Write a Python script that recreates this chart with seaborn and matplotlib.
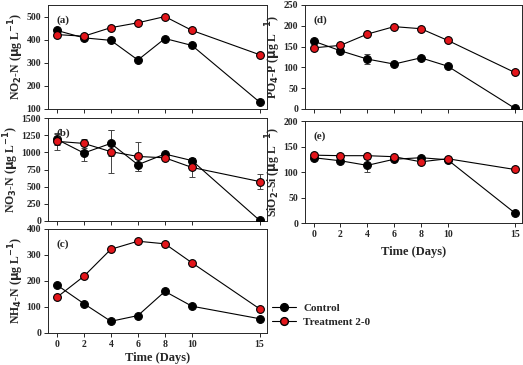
import matplotlib
matplotlib.use("Agg")
import matplotlib.pyplot as plt
from matplotlib.lines import Line2D
import numpy as np
import pandas as pd
import seaborn as sb

sb.set_style("ticks")
plt.rcParams['font.family'] = ['Liberation Serif', 'DejaVu Serif']
plt.rcParams['font.weight'] = 'bold'
plt.rcParams['mathtext.default'] = 'bf'

days = [0, 2, 4, 6, 8, 10, 15]
groups = ["Control", "Treatment 2-0"]

no2_control = [440, 408, 397, 312, 405, 375, 130]
no2_treat = [422, 415, 452, 473, 500, 440, 335]

no3_control = [1190, 990, 1130, 820, 975, 880, 10]
no3_treat = [1160, 1130, 1010, 940, 920, 780, 575]
no3_control_err = [80, 110, 190, 90, 30, 40, 0]
no3_treat_err = [120, 70, 310, 215, 30, 140, 105]

nh4_control = [185, 113, 45, 67, 160, 103, 55]
nh4_treat = [137, 218, 322, 353, 343, 270, 93]

po4_control = [163, 140, 120, 108, 123, 103, 2]
po4_treat = [147, 153, 180, 198, 193, 165, 88]
po4_control_err = [4, 6, 12, 3, 4, 3, 0]

si_control = [128, 122, 113, 125, 128, 124, 20]
si_treat = [133, 132, 132, 130, 120, 126, 105]
si_control_err = [3, 3, 13, 4, 3, 3, 0]

panels = [
    # label, ylabel, control, treat, control err, treat err, ylim, yticks, rect
    ("(a)", r"NO$_2$-N ($\mu$g L$^{-1}$)", no2_control, no2_treat, None, None,
     (100, 550), [100, 200, 300, 400, 500], [48, 5, 267, 109]),
    ("(b)", r"NO$_3$-N ($\mu$g L$^{-1}$)", no3_control, no3_treat, no3_control_err, no3_treat_err,
     (0, 1500), [0, 250, 500, 750, 1000, 1250, 1500], [48, 118, 267, 221]),
    ("(c)", r"NH$_4$-N ($\mu$g L$^{-1}$)", nh4_control, nh4_treat, None, None,
     (0, 400), [0, 100, 200, 300, 400], [48, 229, 267, 333]),
    ("(d)", r"PO$_4$-P ($\mu$g L$^{-1}$)", po4_control, po4_treat, po4_control_err, None,
     (0, 250), [0, 50, 100, 150, 200, 250], [305, 5, 522, 109]),
    ("(e)", r"SiO$_2$-Si ($\mu$g L$^{-1}$)", si_control, si_treat, si_control_err, None,
     (0, 200), [0, 50, 100, 150, 200], [305, 121, 522, 223]),
]

W, H = 523, 365
fig = plt.figure(figsize=(W / 100, H / 100), dpi=100)
colors = {"Control": "black", "Treatment 2-0": "#e3161b"}
msize = 5.6

for label, ylabel, ctrl, trt, cerr, terr, ylim, yticks, (x0, y0, x1, y1) in panels:
    ax = fig.add_axes([x0 / W, 1 - y1 / H, (x1 - x0) / W, (y1 - y0) / H])
    for name, vals, err in [("Control", ctrl, cerr), ("Treatment 2-0", trt, terr)]:
        if err is not None:
            ax.errorbar(days, vals, yerr=err, fmt='none', ecolor='#444444',
                        elinewidth=0.7, capsize=2, capthick=0.7, zorder=2)
        df = pd.DataFrame({"day": days, "value": vals})
        sb.lineplot(data=df, x="day", y="value", ax=ax, color="black", lw=0.8,
                    marker="o", markersize=msize, markerfacecolor=colors[name],
                    markeredgecolor="black", markeredgewidth=0.8, zorder=3)
    ax.set_xlim(-0.65, 15.55)
    ax.set_ylim(*ylim)
    ax.set_yticks(yticks)
    ax.set_xticks(days)
    ax.tick_params(labelsize=7, length=3, width=0.7, pad=2)
    for s in ax.spines.values():
        s.set_linewidth(0.7)
    ax.set_ylabel(ylabel, fontsize=8.5, fontweight='bold', labelpad=0.5)
    ax.set_xlabel("")
    ax.text(0.04, 0.9, label, transform=ax.transAxes, fontsize=8,
            fontweight='bold', va='top')
    if label in ("(c)", "(e)"):
        ax.set_xlabel("Time (Days)", fontsize=9, fontweight='bold',
                      labelpad=2 if label == "(c)" else 5)
    else:
        ax.set_xticklabels([])

handles = [Line2D([], [], color="black", lw=0.8, marker="o", markersize=msize,
                  markerfacecolor=colors[g], markeredgecolor="black")
           for g in groups]
fig.legend(handles, groups, loc="center left", bbox_to_anchor=(262 / W, 1 - 315 / H),
           frameon=False, handlelength=2.2, labelspacing=0.35,
           handletextpad=0.6, prop={'weight': 'bold', 'size': 8})

plt.savefig("out.png", dpi=100)
